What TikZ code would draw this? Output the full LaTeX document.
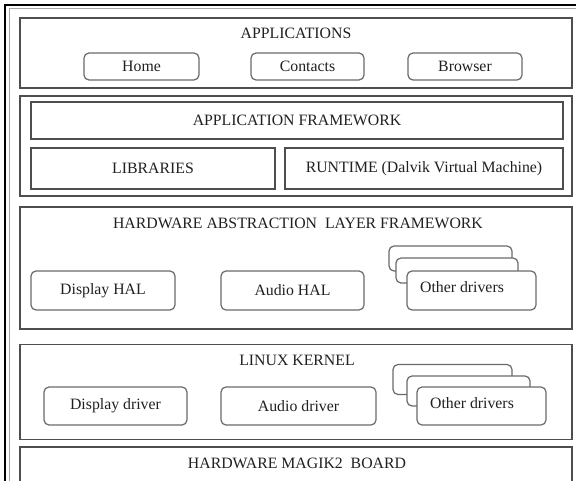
\documentclass[tikz,border=0pt]{standalone}
\usepackage{fontspec}
\setmainfont{Liberation Serif}
\definecolor{layerline}{HTML}{4E4E4E}
\definecolor{itemline}{HTML}{6A6A6A}
\definecolor{txt}{HTML}{202020}
\begin{document}
\begin{tikzpicture}[x=1pt,y=-1pt,
  layer/.style={draw=layerline,line width=1.3pt,rectangle,inner sep=0pt,fill=white},
  item/.style={draw=itemline,line width=1.2pt,rectangle,rounded corners=5pt,inner sep=0pt,fill=white},
  lbl/.style={inner sep=0pt,text=txt,font=\fontsize{15.8}{19}\selectfont},
  frameblack/.style={draw=black,line width=2pt},
  framegray/.style={draw=gray!70,line width=1pt}]
\clip (0,0) rectangle (576,481);
\fill[white] (0,0) rectangle (576,481);
% outer frame
\coordinate (ftl) at (5,5);
\coordinate (ftr) at (576,5);
\coordinate (fbl) at (5,481);
\coordinate (gtl) at (9,9);
\coordinate (gtr) at (576,9);
\coordinate (gbl) at (9,481);
\draw[framegray] (gbl) -- (gtl) -- (gtr);
\draw[frameblack] (fbl) -- (ftl) -- (ftr);
% applications
\node[layer,minimum width=552pt,minimum height=70pt] (apps) at (296,53) {};
\node[lbl] (appsT) at (296,33) {APPLICATIONS};
\node[item,minimum width=115pt,minimum height=27pt] (home) at (141.5,66.5) {};
\node[lbl] at (home) {Home};
\node[item,minimum width=113pt,minimum height=27pt] (contacts) at (307.5,66.5) {};
\node[lbl] at (contacts) {Contacts};
\node[item,minimum width=114pt,minimum height=27pt] (browser) at (465,66.5) {};
\node[lbl] at (browser) {Browser};
% framework group
\node[layer,minimum width=552pt,minimum height=100pt] (grp) at (296,146) {};
\node[layer,minimum width=532pt,minimum height=37pt] (fw) at (297,120.5) {};
\node[lbl] (fwT) at (fw) {APPLICATION FRAMEWORK};
\node[layer,minimum width=244pt,minimum height=41pt] (libs) at (153,168.5) {};
\node[lbl] (libsT) at (libs) {LIBRARIES};
\node[layer,minimum width=278pt,minimum height=41pt] (rt) at (424,168.5) {};
\node[lbl] (rtT) at (rt) {RUNTIME (Dalvik Virtual Machine)};
% HAL
\node[layer,minimum width=552pt,minimum height=122pt] (hal) at (296,268) {};
\node[lbl] (halT) at (298,223) {HARDWARE ABSTRACTION\ \ LAYER FRAMEWORK};
\node[item,minimum width=144pt,minimum height=39pt] (dhal) at (103,290.5) {};
\node[lbl] at (dhal) {Display HAL};
\node[item,minimum width=143pt,minimum height=39pt] (ahal) at (292.5,290.5) {};
\node[lbl] at (ahal) {Audio HAL};
\node[item,minimum width=123pt,minimum height=25pt] (ohalA) at (450.5,258.5) {};
\node[item,minimum width=122pt,minimum height=25pt] (ohalB) at (457,270.5) {};
\node[item,minimum width=129pt,minimum height=39pt] (ohal) at (471.5,290.5) {};
\node[lbl] at (462,287) {Other drivers};
% kernel
\node[layer,minimum width=552pt,minimum height=95pt] (kern) at (296,392) {};
\node[lbl] (kernT) at (297,360) {LINUX KERNEL};
\node[item,minimum width=143pt,minimum height=38pt] (ddrv) at (115.5,406) {};
\node[lbl] at (ddrv) {Display driver};
\node[item,minimum width=155pt,minimum height=38pt] (adrv) at (298.5,406) {};
\node[lbl] at (adrv) {Audio driver};
\node[item,minimum width=119pt,minimum height=30pt] (okA) at (452.5,379.5) {};
\node[item,minimum width=123pt,minimum height=30pt] (okB) at (468.5,391) {};
\node[item,minimum width=129pt,minimum height=38pt] (ok) at (481.5,406) {};
\node[lbl] at (472,403) {Other drivers};
% board
\node[layer,minimum width=552pt,minimum height=50pt] (board) at (296,472) {};
\node[lbl] (boardT) at (297,463) {HARDWARE MAGIK2\ \ BOARD};
\end{tikzpicture}
\end{document}
